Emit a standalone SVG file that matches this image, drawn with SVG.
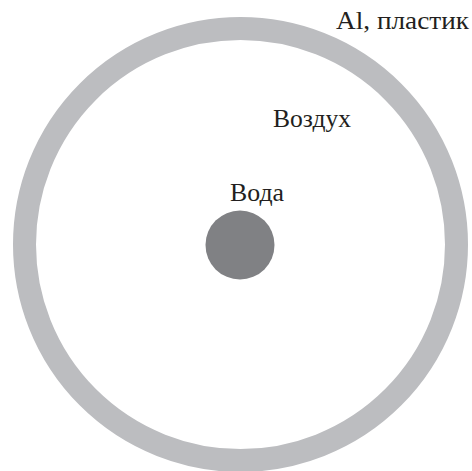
<svg xmlns="http://www.w3.org/2000/svg" width="472" height="471" viewBox="0 0 472 471">
<style>
.lbl{font-family:"Liberation Serif","Times New Roman",serif;font-size:26px;fill:#231f20}
</style>
<rect width="472" height="471" fill="#fff"/>
<g id="shell"><circle cx="240.5" cy="244.5" r="216" fill="none" stroke="#bcbdc0" stroke-width="23"/></g>
<g id="water"><circle cx="240" cy="245" r="34.5" fill="#808184"/></g>
<g id="labels">
<text class="lbl" x="336" y="29" textLength="133" lengthAdjust="spacingAndGlyphs">Al, пластик</text>
<text class="lbl" x="273" y="127" textLength="78" lengthAdjust="spacingAndGlyphs">Воздух</text>
<text class="lbl" x="230" y="201" textLength="54" lengthAdjust="spacingAndGlyphs">Вода</text>
</g>
</svg>
